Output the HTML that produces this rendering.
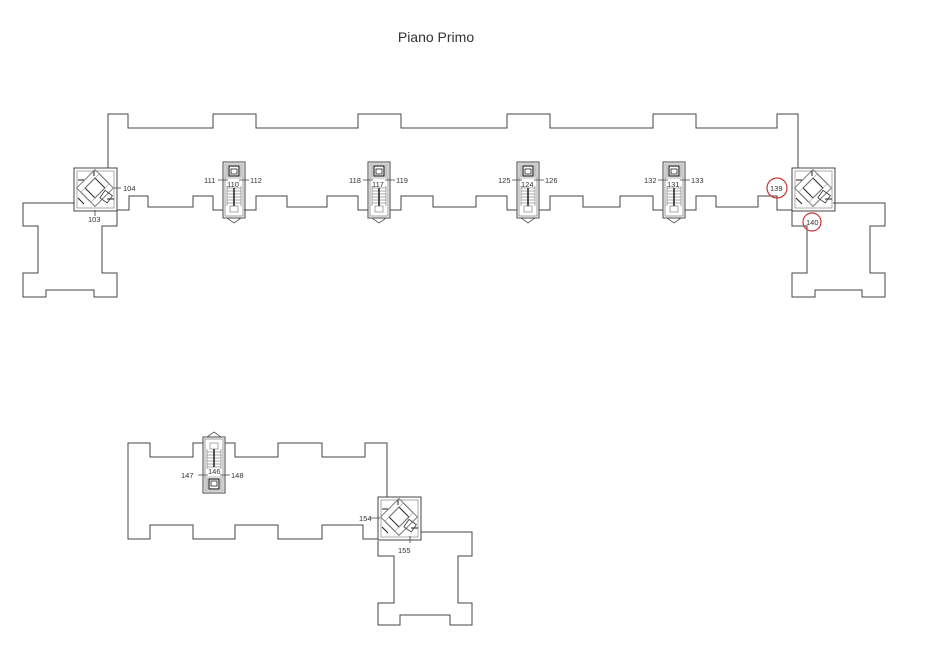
<!DOCTYPE html>
<html><head><meta charset="utf-8"><style>
html,body{margin:0;padding:0;background:#fff;}
svg{display:block;}
text{font-family:"Liberation Sans",sans-serif;fill:#333;}
.l{font-size:7.5px;fill:#444;}
</style></head><body>
<svg width="927" height="648" viewBox="0 0 927 648" xmlns="http://www.w3.org/2000/svg">
<defs>
<g id="st">
<rect x="0" y="0" width="22" height="56" fill="none" stroke="#444" stroke-width="1"/>
<rect x="2" y="2" width="18" height="52" fill="none" stroke="#777" stroke-width="0.7"/>
<rect x="6" y="4" width="10" height="10" fill="none" stroke="#222" stroke-width="1.2"/>
<rect x="8" y="7" width="6" height="5" fill="none" stroke="#222" stroke-width="0.8"/>
<line x1="4" y1="3" x2="4" y2="15" stroke="#555" stroke-width="0.7"/>
<line x1="18" y1="3" x2="18" y2="15" stroke="#555" stroke-width="0.7"/>
<line x1="2" y1="16" x2="20" y2="16" stroke="#777" stroke-width="0.6"/>
<g stroke="#555" stroke-width="0.5">
<line x1="4" y1="26" x2="18" y2="26"/><line x1="4" y1="29" x2="18" y2="29"/><line x1="4" y1="32" x2="18" y2="32"/><line x1="4" y1="35" x2="18" y2="35"/><line x1="4" y1="38" x2="18" y2="38"/><line x1="4" y1="41" x2="18" y2="41"/>
<line x1="4" y1="24" x2="4" y2="44"/><line x1="18" y1="24" x2="18" y2="44"/>
<rect x="7" y="44" width="8" height="6" fill="none"/>
</g>
<line x1="11" y1="26" x2="11" y2="44" stroke="#111" stroke-width="1.4"/>
<path d="M0 56 L4 56 L11 61 L18 56 L22 56" fill="none" stroke="#555" stroke-width="0.8"/>
</g>
<g id="bx">
<rect x="0" y="0" width="43" height="43" fill="none" stroke="#444" stroke-width="1"/>
<rect x="3" y="3" width="37" height="37" fill="none" stroke="#888" stroke-width="0.7"/>
<g transform="translate(21,20) rotate(45)">
<rect x="-13" y="-13" width="26" height="26" fill="none" stroke="#666" stroke-width="1"/>
<rect x="-7" y="-7" width="14" height="14" fill="none" stroke="#222" stroke-width="1"/>
<rect x="-13" y="-13" width="6" height="26" fill="none" stroke="#999" stroke-width="0.6"/>
<rect x="7" y="-13" width="6" height="26" fill="none" stroke="#999" stroke-width="0.6"/>
</g>
<path d="M4 12 L10 12 M33 31 L40 31 M20 3 L20 8 M4 30 L10 36" stroke="#222" stroke-width="1"/>
<rect x="28" y="24" width="9" height="9" fill="none" stroke="#333" stroke-width="0.8" transform="rotate(35 32 28)"/>
</g>
</defs>

<text x="436" y="42" font-size="14" text-anchor="middle" fill="#111">Piano Primo</text>

<g fill="none" stroke="#444" stroke-width="1">
<polyline points="108,168 108,114 128,114 128,128 213,128 213,114 256,114 256,128 358,128 358,114 401,114 401,128 507,128 507,114 550,114 550,128 653,128 653,114 696,114 696,128 777,128 777,114 798,114 798,168"/>
<polyline points="117,210 129,210 129,196 148,196 148,207 193,207 193,196 213,196 213,210 223,210"/>
<polyline points="244,210 256,210 256,196 287,196 287,207 327,207 327,196 358,196 358,210 368,210"/>
<polyline points="390,210 401,210 401,196 433,196 433,207 476,207 476,196 507,196 507,210 517,210"/>
<polyline points="539,210 550,210 550,196 583,196 583,207 620,207 620,196 653,196 653,210 663,210"/>
<polyline points="685,210 696,210 696,196 716,196 716,207 758,207 758,196 777,196 777,210 792,210"/>
<polyline points="74,203 23,203 23,226 38,226 38,273 23,273 23,297 46,297 46,290 94,290 94,297 117,297 117,273 102,273 102,226 117,226 117,210"/>
<polyline points="833,203 885,203 885,226 870,226 870,273 885,273 885,297 862,297 862,290 815,290 815,297 792,297 792,273 807,273 807,226 792,226 792,210"/>
<polyline points="203,443 193,443 193,457 150,457 150,443 128,443 128,539 150,539 150,525 193,525 193,539 235,539 235,525 278,525 278,539 322,539 322,525 363,525 363,539 378,539"/>
<polyline points="225,443 235,443 235,457 278,457 278,443 322,443 322,457 365,457 365,443 387,443 387,497"/>
<polyline points="421,532 472,532 472,556 458,556 458,603 472,603 472,625 450,625 450,615 400,615 400,625 378,625 378,603 394,603 394,556 378,556 378,541"/>
</g>

<use href="#bx" x="74" y="168"/>
<use href="#bx" x="792" y="168"/>
<use href="#bx" x="378" y="497"/>
<use href="#st" x="223" y="162"/>
<use href="#st" x="368" y="162"/>
<use href="#st" x="517" y="162"/>
<use href="#st" x="663" y="162"/>
<use href="#st" transform="translate(225,493) rotate(180)"/>

<g stroke="#444" stroke-width="0.8">
<path d="M218 180 L228 180 M239 180 L249 180 M363 180 L373 180 M385 180 L395 180 M512 180 L522 180 M534 180 L544 180 M658 180 L668 180 M680 180 L690 180 M198 475 L208 475 M220 475 L230 475 M114 188 L121 188 M370 518 L380 518 M410 536 L410 543 M95 210 L95 216"/>
</g>

<g class="l">
<text x="123" y="191">104</text><text x="88" y="222">103</text>
<text x="204" y="183">111</text><text x="250" y="183">112</text><text x="227" y="187">110</text>
<text x="349" y="183">118</text><text x="396" y="183">119</text><text x="372" y="187">117</text>
<text x="498" y="183">125</text><text x="545" y="183">126</text><text x="521" y="187">124</text>
<text x="644" y="183">132</text><text x="691" y="183">133</text><text x="667" y="187">131</text>
<text x="770" y="191">139</text><text x="806" y="225">140</text>
<text x="181" y="478">147</text><text x="231" y="478">148</text><text x="208" y="474">146</text>
<text x="359" y="521">154</text><text x="398" y="553">155</text>
</g>
<circle cx="777" cy="188" r="10" fill="none" stroke="#c33" stroke-width="1.2"/>
<circle cx="812" cy="222" r="9" fill="none" stroke="#c33" stroke-width="1.2"/>
</svg>
</body></html>
